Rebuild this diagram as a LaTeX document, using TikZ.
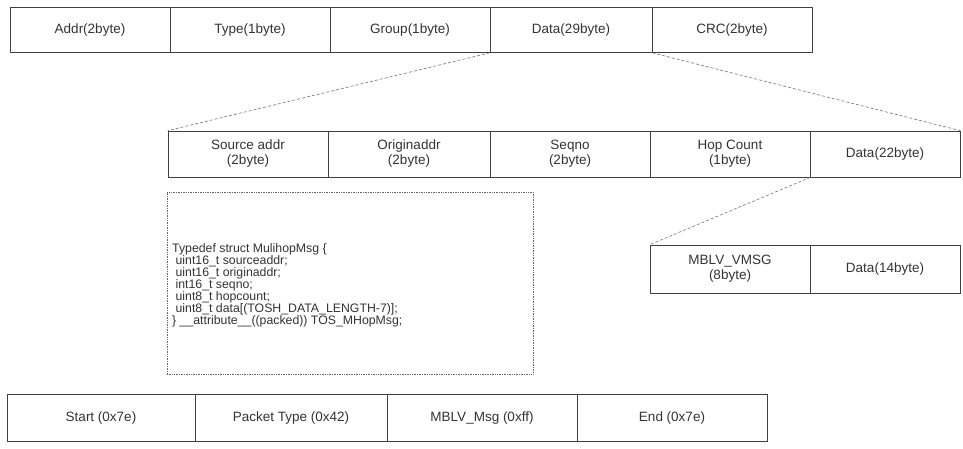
\documentclass[tikz,border=0pt]{standalone}
\usepackage{fontspec}
\setmainfont{Liberation Sans}
\begin{document}
\begin{tikzpicture}[x=1pt,y=-1pt,
  cell/.style={draw=black!75,line width=0.7pt,rectangle,inner sep=0pt,align=center,
    font=\fontsize{13.5}{15}\selectfont,text=black!80},
  lead/.style={draw=black!55,line width=0.6pt,densely dashed},
  codebox/.style={draw=black!60,line width=0.7pt,densely dotted}]
\useasboundingbox (0,0) rectangle (963,448);
% top row
\node[cell,minimum width=160pt,minimum height=45pt] (addr) at (90,30) {Addr(2byte)};
\node[cell,minimum width=160pt,minimum height=45pt] (type) at (250,30) {Type(1byte)};
\node[cell,minimum width=160pt,minimum height=45pt] (group) at (410,30) {Group(1byte)};
\node[cell,minimum width=162pt,minimum height=45pt] (data29) at (571,30) {Data(29byte)};
\node[cell,minimum width=160pt,minimum height=45pt] (crc) at (732,30) {CRC(2byte)};
% second row
\node[cell,minimum width=160pt,minimum height=46pt] (src) at (248,154) {Source addr\\(2byte)};
\node[cell,minimum width=162pt,minimum height=46pt] (orig) at (409,154) {Originaddr\\(2byte)};
\node[cell,minimum width=160pt,minimum height=46pt] (seq) at (570,154) {Seqno\\(2byte)};
\node[cell,minimum width=160pt,minimum height=46pt] (hop) at (730,154) {Hop Count\\(1byte)};
\node[cell,minimum width=150pt,minimum height=46pt] (data22) at (885,154) {Data(22byte)};
\draw[lead] (data29.south west) -- (src.north west);
\draw[lead] (data29.south east) -- (data22.north east);
% code box
\node[codebox,minimum width=366pt,minimum height=182pt] (code) at (350,283) {};
\node[anchor=north west,inner sep=0pt,align=left,font=\fontsize{12.3}{12}\selectfont,text=black!80] (codetext) at (172,243)
{Typedef struct MulihopMsg \{\\
\ uint16\_t sourceaddr;\\
\ uint16\_t originaddr;\\
\ int16\_t seqno;\\
\ uint8\_t hopcount;\\
\ uint8\_t data[(TOSH\_DATA\_LENGTH-7)];\\
\} \_\_attribute\_\_((packed)) TOS\_MHopMsg;};
% third row
\node[cell,minimum width=160pt,minimum height=48pt] (mblv) at (730,269) {MBLV\_VMSG\\(8byte)};
\node[cell,minimum width=150pt,minimum height=48pt] (data14) at (885,269) {Data(14byte)};
\draw[lead] (hop.south east) -- (mblv.north west);
% bottom row
\node[cell,minimum width=188pt,minimum height=47pt] (start) at (101,418) {Start (0x7e)};
\node[cell,minimum width=192pt,minimum height=47pt] (ptype) at (291,418) {Packet Type (0x42)};
\node[cell,minimum width=190pt,minimum height=47pt] (msg) at (482,418) {MBLV\_Msg (0xff)};
\node[cell,minimum width=190pt,minimum height=47pt] (end) at (672,418) {End (0x7e)};
\end{tikzpicture}
\end{document}
